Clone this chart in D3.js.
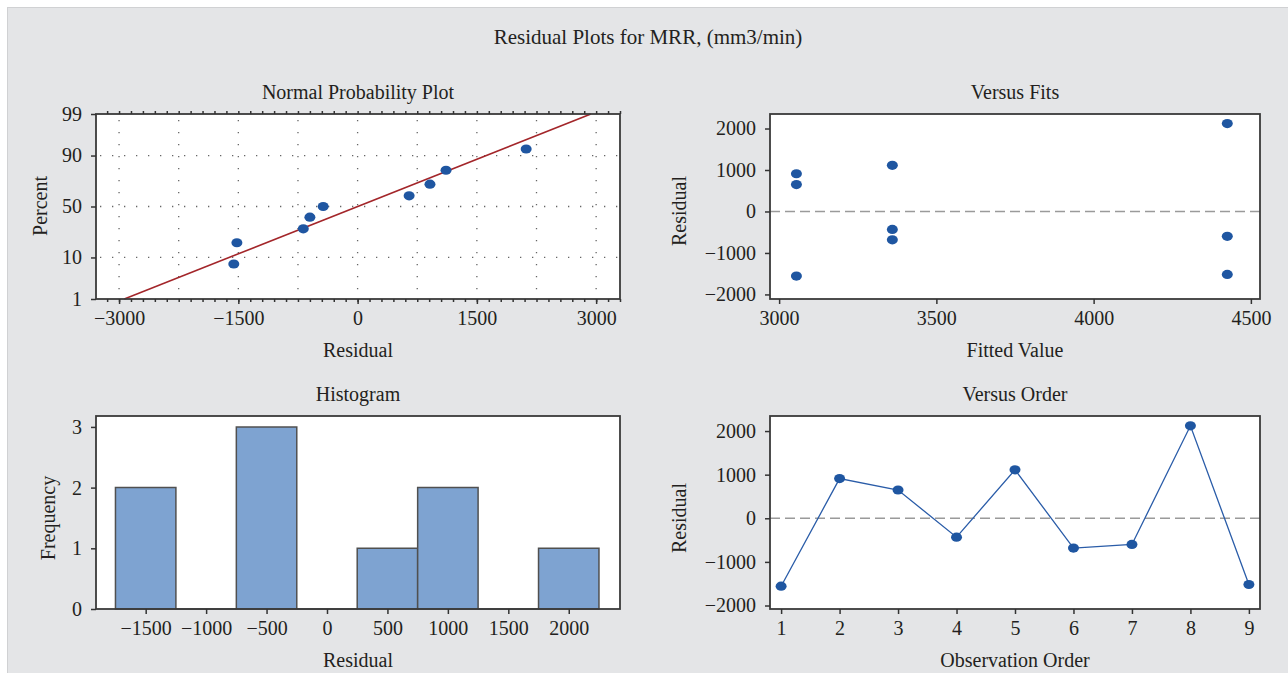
<!DOCTYPE html>
<html>
<head>
<meta charset="UTF-8">
<title>Residual Plots for MRR</title>
<script src="https://d3js.org/d3.v7.min.js"></script>
<style>
    body { margin: 0; background: #fff; }
    text { font-family: "Liberation Serif", "DejaVu Serif", serif; fill: #231f20; }
    .tick text { font-size: 20px; }
    .tick line { stroke: #333; stroke-width: 1.5; }
    .ttl { font-size: 20px; }
</style>
</head>
<body>
<svg id="chart" width="1288" height="673"></svg>
<script>
// residuals in observation order 1..9
const observation = [1, 2, 3, 4, 5, 6, 7, 8, 9];
const residuals = [-1557, 910, 648, -433, 1112, -683, -600, 2120, -1518];
const fitted = [3055, 3055, 3055, 3360, 3360, 3360, 4425, 4425, 4425];

// normal probability plot: sorted residuals and their plotting percent
const nppResidual = [-1557, -1518, -683, -600, -433, 648, 910, 1112, 2120];
const nppPercent = [7.4, 18.1, 28.7, 39.4, 50, 60.6, 71.3, 81.9, 92.6];
const nppTicks = [1, 10, 50, 90, 99];
const nppGrid = [10, 50, 90];
const nppXTicks = [-3000, -1500, 0, 1500, 3000];

// histogram
const binCenters = [-1500, -1000, -500, 0, 500, 1000, 1500, 2000];
const binCounts = [2, 0, 3, 0, 1, 2, 0, 1];
const binWidth = 500;

const fitTicks = [3000, 3500, 4000, 4500];
const residTicks = [-2000, -1000, 0, 1000, 2000];

const svg = d3.select("#chart");

// background panel
svg.append("rect").attr("x", 7.5).attr("y", 7.5).attr("width", 1290).attr("height", 680)
    .attr("fill", "#e4e5e7").attr("stroke", "#d0d1d3");

svg.append("text").attr("x", 648).attr("y", 44).attr("text-anchor", "middle")
    .style("font-size", "21px").text("Residual Plots for MRR, (mm3/min)");

// inverse normal cdf (Abramowitz & Stegun 26.2.23)
function probit(p) {
    const q = p < 0.5 ? p : 1 - p;
    const t = Math.sqrt(-2 * Math.log(q));
    const z = t - (2.515517 + 0.802853 * t + 0.010328 * t * t) /
        (1 + 1.432788 * t + 0.189269 * t * t + 0.001308 * t * t * t);
    return p < 0.5 ? -z : z;
}

// one panel: frame box, titles
function panel(box, title, xTitle, yTitle, yTitleX, yTitleY) {
    const g = svg.append("g");
    g.append("rect").attr("x", box.l).attr("y", box.t)
        .attr("width", box.r - box.l).attr("height", box.b - box.t).attr("fill", "#fff");
    g.append("text").attr("class", "ttl").attr("x", (box.l + box.r) / 2).attr("y", box.t - 15)
        .attr("text-anchor", "middle").text(title);
    g.append("text").attr("class", "ttl").attr("x", (box.l + box.r) / 2).attr("y", box.b + 58)
        .attr("text-anchor", "middle").text(xTitle);
    g.append("text").attr("class", "ttl")
        .attr("transform", "translate(" + yTitleX + "," + yTitleY + ") rotate(-90)")
        .attr("text-anchor", "middle").text(yTitle);
    return g;
}
function frame(g, box) {
    g.append("rect").attr("x", box.l).attr("y", box.t)
        .attr("width", box.r - box.l).attr("height", box.b - box.t)
        .attr("fill", "none").attr("stroke", "#3a3a3a").attr("stroke-width", 1.8);
}
function styleAxis(a) {
    a.select(".domain").remove();
    a.selectAll(".tick text").text(function () { return this.textContent.replace("-", "\u2212"); });
}

// ---------- Normal Probability Plot ----------
const b1 = { l: 96, r: 620, t: 114, b: 299 };
const g1 = panel(b1, "Normal Probability Plot", "Residual", "Percent", 47, 206);
const x1 = d3.scaleLinear().domain([-3290, 3300]).range([b1.l, b1.r]);
const y1 = d3.scaleLinear().domain([probit(0.01), probit(0.99)]).range([b1.b, b1.t]);

const gridX = d3.range(-3000, 3001, 750);
g1.selectAll(".vg").data(gridX).join("line")
    .attr("x1", d => x1(d)).attr("x2", d => x1(d)).attr("y1", b1.t + 6).attr("y2", b1.b)
    .attr("stroke", "#666").attr("stroke-width", 1.3).attr("stroke-dasharray", "1.3,10.7");
g1.selectAll(".hg").data(nppGrid).join("line")
    .attr("x1", b1.l + 4).attr("x2", b1.r).attr("y1", d => y1(probit(d / 100))).attr("y2", d => y1(probit(d / 100)))
    .attr("stroke", "#666").attr("stroke-width", 1.3).attr("stroke-dasharray", "1.3,10.7");

// fitted normal line
const mu = d3.mean(residuals), sd = d3.deviation(residuals);
const fitP = [1, 99];
g1.append("path").datum(fitP)
    .attr("d", d3.line().x(p => x1(mu + probit(p / 100) * sd)).y(p => y1(probit(p / 100))))
    .attr("stroke", "#a3262a").attr("stroke-width", 1.6).attr("fill", "none");

g1.selectAll(".pt").data(nppResidual).join("ellipse")
    .attr("cx", d => x1(d)).attr("cy", (d, i) => y1(probit(nppPercent[i] / 100)))
    .attr("rx", 5.5).attr("ry", 4.6).attr("fill", "#1f56a1");
frame(g1, b1);

// minor ticks along top and bottom edge
const minor = d3.range(-3150, 3301, 150);
g1.append("g").attr("transform", "translate(0," + b1.b + ")")
    .call(d3.axisBottom(x1).tickValues(minor).tickSize(3).tickFormat(""))
    .call(a => a.select(".domain").remove()).selectAll("line").attr("stroke", "#555").attr("stroke-width", 1.2);
g1.append("g").attr("transform", "translate(0," + b1.t + ")")
    .call(d3.axisTop(x1).tickValues(minor).tickSize(3).tickFormat(""))
    .call(a => a.select(".domain").remove()).selectAll("line").attr("stroke", "#555").attr("stroke-width", 1.2);

g1.append("g").attr("transform", "translate(0," + b1.b + ")")
    .call(d3.axisBottom(x1).tickValues(nppXTicks).tickSize(5).tickPadding(7).tickFormat(d3.format("d")))
    .call(styleAxis);
g1.append("g").attr("transform", "translate(" + b1.l + ",0)")
    .call(d3.axisLeft(y1).tickValues(nppTicks.map(p => probit(p / 100))).tickSize(5).tickPadding(9)
        .tickFormat((d, i) => nppTicks[i]))
    .call(styleAxis);

// ---------- Versus Fits ----------
const b2 = { l: 770, r: 1260, t: 114, b: 299 };
const g2 = panel(b2, "Versus Fits", "Fitted Value", "Residual", 686, 211);
const x2 = d3.scaleLinear().domain([2971, 4529]).range([b2.l, b2.r]);
const y2 = d3.scaleLinear().domain([-2110, 2350]).range([b2.b, b2.t]);
g2.append("line").attr("x1", b2.l).attr("x2", b2.r).attr("y1", y2(0)).attr("y2", y2(0))
    .attr("stroke", "#9a9a9a").attr("stroke-width", 1.5).attr("stroke-dasharray", "10,5");
g2.selectAll(".pt").data(residuals).join("ellipse")
    .attr("cx", (d, i) => x2(fitted[i])).attr("cy", d => y2(d))
    .attr("rx", 5.5).attr("ry", 4.6).attr("fill", "#1f56a1");
frame(g2, b2);
g2.append("g").attr("transform", "translate(0," + b2.b + ")")
    .call(d3.axisBottom(x2).tickValues(fitTicks).tickSize(5).tickPadding(7).tickFormat(d3.format("d")))
    .call(styleAxis);
g2.append("g").attr("transform", "translate(" + b2.l + ",0)")
    .call(d3.axisLeft(y2).tickValues(residTicks).tickSize(5).tickPadding(9).tickFormat(d3.format("d")))
    .call(styleAxis);

// ---------- Histogram ----------
const b3 = { l: 96, r: 620, t: 416, b: 609 };
const g3 = panel(b3, "Histogram", "Residual", "Frequency", 55, 518);
const x3 = d3.scaleLinear().domain([-1911, 2424]).range([b3.l, b3.r]);
const y3 = d3.scaleLinear().domain([0, 3.18]).range([b3.b, b3.t]);
g3.selectAll(".bar").data(binCenters).join("path")
    .attr("d", (d, i) => {
        const xa = x3(d - binWidth / 2), xb = x3(d + binWidth / 2), yt = y3(binCounts[i]);
        return "M" + xa + "," + b3.b + "V" + yt + "H" + xb + "V" + b3.b + "Z";
    })
    .attr("fill", "#7ea3d1").attr("stroke", "#505050").attr("stroke-width", 1.5);
frame(g3, b3);
g3.append("g").attr("transform", "translate(0," + b3.b + ")")
    .call(d3.axisBottom(x3).tickValues(binCenters).tickSize(5).tickPadding(7).tickFormat(d3.format("d")))
    .call(styleAxis);
g3.append("g").attr("transform", "translate(" + b3.l + ",0)")
    .call(d3.axisLeft(y3).tickValues([0, 1, 2, 3]).tickSize(5).tickPadding(9).tickFormat(d3.format("d")))
    .call(styleAxis);

// ---------- Versus Order ----------
const b4 = { l: 770, r: 1260, t: 416, b: 609 };
const g4 = panel(b4, "Versus Order", "Observation Order", "Residual", 686, 518);
const x4 = d3.scaleLinear().domain([0.81, 9.19]).range([b4.l, b4.r]);
const y4 = d3.scaleLinear().domain([-2080, 2345]).range([b4.b, b4.t]);
g4.append("line").attr("x1", b4.l).attr("x2", b4.r).attr("y1", y4(0)).attr("y2", y4(0))
    .attr("stroke", "#9a9a9a").attr("stroke-width", 1.5).attr("stroke-dasharray", "10,5");
g4.append("path").datum(residuals)
    .attr("d", d3.line().x((d, i) => x4(observation[i])).y(d => y4(d)))
    .attr("fill", "none").attr("stroke", "#2a5ca8").attr("stroke-width", 1.3);
g4.selectAll(".pt").data(residuals).join("ellipse")
    .attr("cx", (d, i) => x4(observation[i])).attr("cy", d => y4(d))
    .attr("rx", 5.5).attr("ry", 4.6).attr("fill", "#1f56a1");
frame(g4, b4);
g4.append("g").attr("transform", "translate(0," + b4.b + ")")
    .call(d3.axisBottom(x4).tickValues(observation).tickSize(5).tickPadding(7).tickFormat(d3.format("d")))
    .call(styleAxis);
g4.append("g").attr("transform", "translate(" + b4.l + ",0)")
    .call(d3.axisLeft(y4).tickValues(residTicks).tickSize(5).tickPadding(9).tickFormat(d3.format("d")))
    .call(styleAxis);
</script>
</body>
</html>
